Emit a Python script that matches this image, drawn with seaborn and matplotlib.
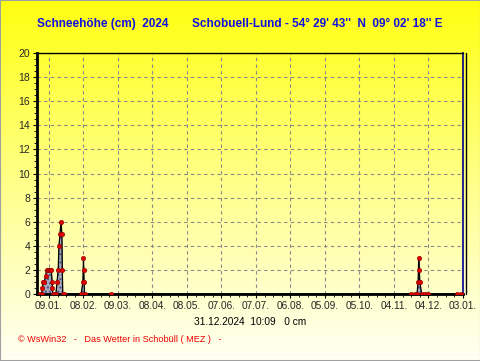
import numpy as np
import pandas as pd
import matplotlib
matplotlib.use("Agg")
import matplotlib.pyplot as plt
import matplotlib.dates as mdates
from matplotlib.colors import LinearSegmentedColormap
from matplotlib.lines import Line2D
from matplotlib.patches import Rectangle
from matplotlib.ticker import MultipleLocator, FixedLocator
import seaborn as sns

# ---------------- data ----------------
dates = [
    "2024-01-01", "2024-01-02 12:00", "2024-01-03 06:00", "2024-01-03 20:00",
    "2024-01-05", "2024-01-06", "2024-01-07", "2024-01-08", "2024-01-09",
    "2024-01-10", "2024-01-11", "2024-01-11 18:00", "2024-01-12", "2024-01-12 08:00",
    "2024-01-13", "2024-01-15", "2024-01-16", "2024-01-17", "2024-01-17 16:00",
    "2024-01-18 14:00", "2024-01-19 10:00", "2024-01-20 05:00", "2024-01-20 14:00",
    "2024-01-21", "2024-01-22",
    "2024-02-06", "2024-02-07 12:00", "2024-02-08", "2024-02-08 06:00",
    "2024-02-08 12:00", "2024-02-09",
    "2024-03-03",
    "2024-11-19", "2024-11-22", "2024-11-24", "2024-11-25", "2024-11-25 12:00",
    "2024-11-26", "2024-11-26 12:00", "2024-11-28", "2024-12-01", "2024-12-04",
    "2024-12-29", "2025-01-01",
]
snow = [
    0, 0, 0.5, 1,
    1, 1.5, 2, 2, 2,
    2, 2, 1, 0.5, 0,
    0, 0, 1, 2, 4,
    5, 6, 5, 2,
    0, 0,
    0, 1, 3, 2,
    1, 0,
    0,
    0, 0, 0, 1, 3,
    2, 1, 0, 0, 0,
    0, 0,
]
tick_dates = ["2024-01-09", "2024-02-08", "2024-03-09", "2024-04-08", "2024-05-08",
              "2024-06-07", "2024-07-07", "2024-08-06", "2024-09-05", "2024-10-05",
              "2024-11-04", "2024-12-04", "2025-01-03"]
tick_labels = ["09.01.", "08.02.", "09.03.", "08.04.", "08.05.", "07.06.", "07.07.",
               "06.08.", "05.09.", "05.10.", "04.11.", "04.12.", "03.01."]
y_ticks = [0, 2, 4, 6, 8, 10, 12, 14, 16, 18, 20]

title_left = "Schneehöhe (cm)  2024"
title_right = "Schobuell-Lund - 54° 29' 43''  N  09° 02' 18'' E"
status_line = "31.12.2024  10:09   0 cm"
footer = "© WsWin32   -   Das Wetter in Schobüll ( MEZ )   -"

# ---------------- figure ----------------
sns.set_theme(style="white")
plt.rcParams["font.family"] = ["Liberation Sans", "DejaVu Sans"]

W, H = 481, 361
fig = plt.figure(figsize=(W / 100, H / 100), dpi=100)

# gradient background
bg = fig.add_axes([0, 0, 1, 1], zorder=-10)
cmap = LinearSegmentedColormap.from_list("bg", ["#ffff10", "#ffff88", "#fffff4"])
grad = np.linspace(0, 1, 256)[:, None]
bg.imshow(grad, aspect="auto", cmap=cmap, extent=[0, 1, 0, 1], origin="upper")
bg.set_xlim(0, 1)
bg.set_ylim(0, 1)
bg.axis("off")
bg.add_patch(Rectangle((0, 0), 1, 1, fill=False, edgecolor="#a0a0a0", lw=1.5,
                       transform=bg.transAxes))

L, R, T, B = 37, 463, 53, 294
ax = fig.add_axes([L / W, (H - B) / H, (R - L) / W, (B - T) / H])
ax.patch.set_alpha(0)

df = pd.DataFrame({"date": pd.to_datetime(dates, format="mixed"), "snow": snow})

ax.fill_between(df["date"], 0, df["snow"], color="#a4aabf", edgecolor="#4a5070",
                hatch="....", lw=0.5, zorder=2)
sns.lineplot(data=df, x="date", y="snow", ax=ax, color="black", lw=0.9, sort=False,
             estimator=None, marker="o", markersize=3.2, markerfacecolor="#e00000",
             markeredgecolor="#900000", markeredgewidth=0.4, zorder=3)

ax.set_xlim(pd.Timestamp("2023-12-29 13:40"), pd.Timestamp("2025-01-03"))
ax.set_ylim(0, 20)
ax.set_xlabel("")
ax.set_ylabel("")

ax.set_xticks(pd.to_datetime(tick_dates))
ax.set_xticklabels(tick_labels, fontsize=7.3)
minor = pd.date_range("2024-01-01 12:00", "2025-01-03", freq="180h")
ax.xaxis.set_minor_locator(FixedLocator(mdates.date2num(minor)))
ax.set_yticks(y_ticks)
ax.set_yticklabels([str(v) for v in y_ticks], fontsize=7.5)
ax.yaxis.set_minor_locator(MultipleLocator(0.5))

ax.tick_params(axis="both", which="major", direction="out", length=3, width=0.8,
               color="black", pad=2, bottom=True, left=True)
ax.tick_params(axis="both", which="minor", direction="out", length=2, width=0.6,
               color="black", bottom=True, left=True)

ax.grid(True, which="major", color="#888888", linestyle=(0, (3, 3)), lw=0.8, zorder=1)

for s in ["left", "bottom"]:
    ax.spines[s].set_linewidth(2)
    ax.spines[s].set_color("black")
ax.spines["top"].set_linewidth(1)
ax.spines["top"].set_color("black")
ax.spines["right"].set_linewidth(1.2)
ax.spines["right"].set_color("#000090")

fig.add_artist(Line2D([466 / W, 466 / W], [(H - B) / H, (H - T) / H], color="black",
                      lw=1, transform=fig.transFigure))

# texts
fig.text(37 / W, 1 - 24 / H, title_left, color="#1010e0", fontsize=8.5,
         fontweight="bold", va="center", ha="left")
fig.text(192 / W, 1 - 24 / H, title_right, color="#1010e0", fontsize=8.5,
         fontweight="bold", va="center", ha="left")
fig.text(250 / W, 1 - 322 / H, status_line, color="black", fontsize=7.3,
         va="center", ha="center")
fig.text(18 / W, 1 - 340 / H, footer, color="#ee0000", fontsize=6.6,
         va="center", ha="left")

fig.savefig("out.png", dpi=100)
